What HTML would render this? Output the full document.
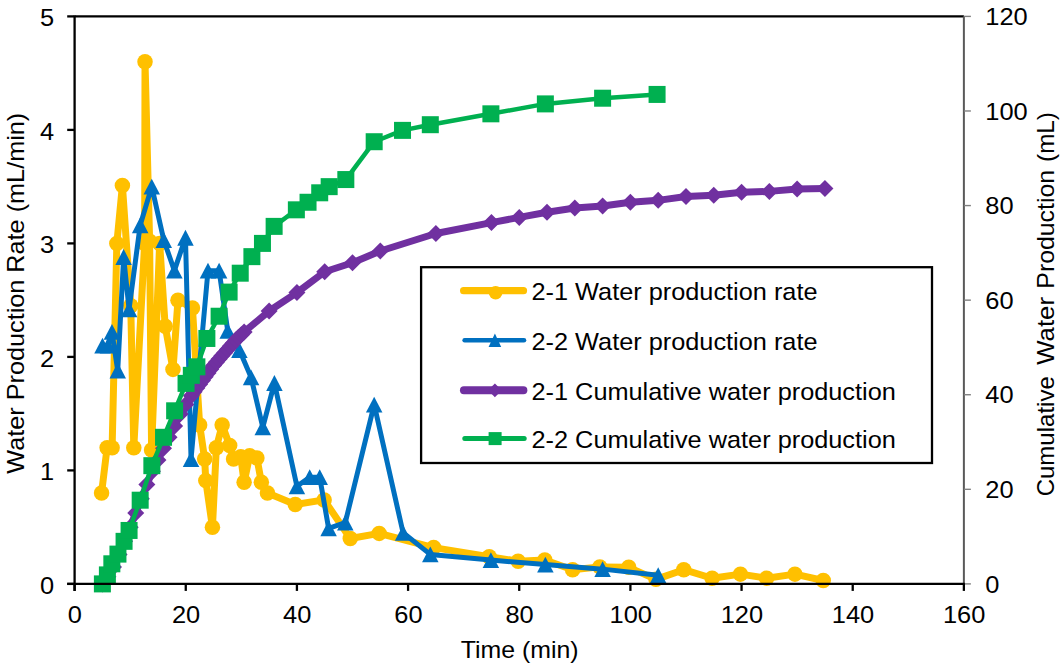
<!DOCTYPE html>
<html><head><meta charset="utf-8"><style>
html,body{margin:0;padding:0;background:#fff;overflow:hidden;}
svg{display:block;}
text{font-family:"Liberation Sans",sans-serif;font-size:24px;fill:#000;}
</style></head><body>
<svg width="1062" height="668" viewBox="0 0 1062 668">
<rect width="1062" height="668" fill="#fff"/>
<polyline points="101.56,493.10 107.11,447.70 112.12,447.70 116.84,243.40 122.40,185.51 130.74,305.82 133.79,447.70 144.63,243.40 145.02,61.80 149.63,241.13 151.58,449.97 159.64,243.40 165.20,326.25 172.98,369.38 177.98,300.15 192.43,308.09 199.65,425.00 204.66,459.05 205.77,480.62 212.44,527.15 216.33,447.70 222.16,425.00 229.67,445.43 233.56,459.05 240.78,456.78 244.12,482.32 249.68,455.64 256.90,457.91 261.35,482.32 267.46,493.10 295.25,504.45 324.15,499.91 350.28,538.50 379.18,533.39 433.65,547.58 489.23,556.66 518.13,561.20 544.81,560.06 572.60,569.71 599.83,566.88 628.73,567.33 655.97,579.36 683.76,569.71 712.10,578.23 740.45,574.14 766.57,578.23 794.92,574.14 823.26,580.50" fill="none" stroke="#FFC000" stroke-width="7" stroke-linejoin="round" stroke-linecap="round"/>
<circle cx="101.56" cy="493.10" r="7.75" fill="#FFC000"/>
<circle cx="107.11" cy="447.70" r="7.75" fill="#FFC000"/>
<circle cx="112.12" cy="447.70" r="7.75" fill="#FFC000"/>
<circle cx="116.84" cy="243.40" r="7.75" fill="#FFC000"/>
<circle cx="122.40" cy="185.51" r="7.75" fill="#FFC000"/>
<circle cx="130.74" cy="305.82" r="7.75" fill="#FFC000"/>
<circle cx="133.79" cy="447.70" r="7.75" fill="#FFC000"/>
<circle cx="144.63" cy="243.40" r="7.75" fill="#FFC000"/>
<circle cx="145.02" cy="61.80" r="7.75" fill="#FFC000"/>
<circle cx="149.63" cy="241.13" r="7.75" fill="#FFC000"/>
<circle cx="151.58" cy="449.97" r="7.75" fill="#FFC000"/>
<circle cx="159.64" cy="243.40" r="7.75" fill="#FFC000"/>
<circle cx="165.20" cy="326.25" r="7.75" fill="#FFC000"/>
<circle cx="172.98" cy="369.38" r="7.75" fill="#FFC000"/>
<circle cx="177.98" cy="300.15" r="7.75" fill="#FFC000"/>
<circle cx="192.43" cy="308.09" r="7.75" fill="#FFC000"/>
<circle cx="199.65" cy="425.00" r="7.75" fill="#FFC000"/>
<circle cx="204.66" cy="459.05" r="7.75" fill="#FFC000"/>
<circle cx="205.77" cy="480.62" r="7.75" fill="#FFC000"/>
<circle cx="212.44" cy="527.15" r="7.75" fill="#FFC000"/>
<circle cx="216.33" cy="447.70" r="7.75" fill="#FFC000"/>
<circle cx="222.16" cy="425.00" r="7.75" fill="#FFC000"/>
<circle cx="229.67" cy="445.43" r="7.75" fill="#FFC000"/>
<circle cx="233.56" cy="459.05" r="7.75" fill="#FFC000"/>
<circle cx="240.78" cy="456.78" r="7.75" fill="#FFC000"/>
<circle cx="244.12" cy="482.32" r="7.75" fill="#FFC000"/>
<circle cx="249.68" cy="455.64" r="7.75" fill="#FFC000"/>
<circle cx="256.90" cy="457.91" r="7.75" fill="#FFC000"/>
<circle cx="261.35" cy="482.32" r="7.75" fill="#FFC000"/>
<circle cx="267.46" cy="493.10" r="7.75" fill="#FFC000"/>
<circle cx="295.25" cy="504.45" r="7.75" fill="#FFC000"/>
<circle cx="324.15" cy="499.91" r="7.75" fill="#FFC000"/>
<circle cx="350.28" cy="538.50" r="7.75" fill="#FFC000"/>
<circle cx="379.18" cy="533.39" r="7.75" fill="#FFC000"/>
<circle cx="433.65" cy="547.58" r="7.75" fill="#FFC000"/>
<circle cx="489.23" cy="556.66" r="7.75" fill="#FFC000"/>
<circle cx="518.13" cy="561.20" r="7.75" fill="#FFC000"/>
<circle cx="544.81" cy="560.06" r="7.75" fill="#FFC000"/>
<circle cx="572.60" cy="569.71" r="7.75" fill="#FFC000"/>
<circle cx="599.83" cy="566.88" r="7.75" fill="#FFC000"/>
<circle cx="628.73" cy="567.33" r="7.75" fill="#FFC000"/>
<circle cx="655.97" cy="579.36" r="7.75" fill="#FFC000"/>
<circle cx="683.76" cy="569.71" r="7.75" fill="#FFC000"/>
<circle cx="712.10" cy="578.23" r="7.75" fill="#FFC000"/>
<circle cx="740.45" cy="574.14" r="7.75" fill="#FFC000"/>
<circle cx="766.57" cy="578.23" r="7.75" fill="#FFC000"/>
<circle cx="794.92" cy="574.14" r="7.75" fill="#FFC000"/>
<circle cx="823.26" cy="580.50" r="7.75" fill="#FFC000"/>
<polyline points="102.50,345.55 107.95,345.55 111.95,331.93 117.73,370.52 123.62,257.02 129.07,309.23 140.18,225.24 151.75,186.65 163.75,240.00 174.37,270.64 185.48,237.73 191.04,459.05 207.99,270.64 219.11,270.64 227.72,330.79 239.39,350.09 251.07,377.33 262.79,427.27 274.41,383.00 296.92,486.29 309.70,477.21 319.71,477.21 328.60,528.28 345.27,522.61 374.18,404.57 403.08,532.82 430.31,554.39 490.89,560.06 545.36,564.61 602.61,569.14 658.19,575.27" fill="none" stroke="#0070C0" stroke-width="5" stroke-linejoin="round" stroke-linecap="round"/>
<path d="M102.50,337.65L110.75,353.45L94.25,353.45Z" fill="#0070C0"/>
<path d="M107.95,337.65L116.20,353.45L99.70,353.45Z" fill="#0070C0"/>
<path d="M111.95,324.03L120.20,339.83L103.70,339.83Z" fill="#0070C0"/>
<path d="M117.73,362.62L125.98,378.42L109.48,378.42Z" fill="#0070C0"/>
<path d="M123.62,249.12L131.87,264.92L115.37,264.92Z" fill="#0070C0"/>
<path d="M129.07,301.33L137.32,317.13L120.82,317.13Z" fill="#0070C0"/>
<path d="M140.18,217.34L148.43,233.14L131.93,233.14Z" fill="#0070C0"/>
<path d="M151.75,178.75L160.00,194.55L143.50,194.55Z" fill="#0070C0"/>
<path d="M163.75,232.09L172.00,247.90L155.50,247.90Z" fill="#0070C0"/>
<path d="M174.37,262.74L182.62,278.54L166.12,278.54Z" fill="#0070C0"/>
<path d="M185.48,229.83L193.73,245.63L177.23,245.63Z" fill="#0070C0"/>
<path d="M191.04,451.15L199.29,466.95L182.79,466.95Z" fill="#0070C0"/>
<path d="M207.99,262.74L216.24,278.54L199.74,278.54Z" fill="#0070C0"/>
<path d="M219.11,262.74L227.36,278.54L210.86,278.54Z" fill="#0070C0"/>
<path d="M227.72,322.89L235.97,338.69L219.47,338.69Z" fill="#0070C0"/>
<path d="M239.39,342.19L247.64,357.99L231.14,357.99Z" fill="#0070C0"/>
<path d="M251.07,369.43L259.32,385.23L242.82,385.23Z" fill="#0070C0"/>
<path d="M262.79,419.37L271.04,435.17L254.54,435.17Z" fill="#0070C0"/>
<path d="M274.41,375.11L282.66,390.90L266.16,390.90Z" fill="#0070C0"/>
<path d="M296.92,478.39L305.17,494.19L288.67,494.19Z" fill="#0070C0"/>
<path d="M309.70,469.31L317.95,485.11L301.45,485.11Z" fill="#0070C0"/>
<path d="M319.71,469.31L327.96,485.11L311.46,485.11Z" fill="#0070C0"/>
<path d="M328.60,520.38L336.85,536.18L320.35,536.18Z" fill="#0070C0"/>
<path d="M345.27,514.71L353.52,530.51L337.02,530.51Z" fill="#0070C0"/>
<path d="M374.18,396.67L382.43,412.47L365.93,412.47Z" fill="#0070C0"/>
<path d="M403.08,524.92L411.33,540.72L394.83,540.72Z" fill="#0070C0"/>
<path d="M430.31,546.49L438.56,562.29L422.06,562.29Z" fill="#0070C0"/>
<path d="M490.89,552.16L499.14,567.96L482.64,567.96Z" fill="#0070C0"/>
<path d="M545.36,556.71L553.61,572.50L537.11,572.50Z" fill="#0070C0"/>
<path d="M602.61,561.25L610.86,577.04L594.36,577.04Z" fill="#0070C0"/>
<path d="M658.19,567.37L666.44,583.17L649.94,583.17Z" fill="#0070C0"/>
<polyline points="102.39,583.90 107.95,576.81 113.51,566.88 119.06,554.58 124.62,541.34 130.18,527.15 135.74,512.96 141.30,498.77 146.85,484.59 152.41,471.35 157.97,460.00 163.53,448.17 169.09,437.30 174.64,425.95 180.20,414.12 185.76,404.55 191.32,395.63 194.10,391.85 196.88,388.07 199.65,384.30 202.43,380.52 205.21,376.74 207.99,372.97 210.77,369.19 213.55,365.41 216.33,362.23 219.11,359.05 221.89,355.87 224.67,352.68 227.44,349.50 230.22,346.32 233.00,343.14 235.78,339.96 238.56,337.27 241.34,334.63 244.12,331.99 269.13,311.03 296.92,292.58 324.71,271.77 352.50,262.79 380.29,250.97 435.87,233.47 491.45,222.59 519.24,217.39 547.03,212.19 574.82,207.93 602.61,206.04 630.40,202.26 658.19,200.36 685.98,196.58 713.77,195.16 741.56,192.32 769.35,191.38 797.14,189.01 824.93,188.54" fill="none" stroke="#7030A0" stroke-width="7" stroke-linejoin="round" stroke-linecap="round"/>
<path d="M102.39,575.40L110.89,583.90L102.39,592.40L93.89,583.90Z" fill="#7030A0"/>
<path d="M107.95,568.31L116.45,576.81L107.95,585.31L99.45,576.81Z" fill="#7030A0"/>
<path d="M113.51,558.38L122.01,566.88L113.51,575.38L105.01,566.88Z" fill="#7030A0"/>
<path d="M119.06,546.08L127.56,554.58L119.06,563.08L110.56,554.58Z" fill="#7030A0"/>
<path d="M124.62,532.84L133.12,541.34L124.62,549.84L116.12,541.34Z" fill="#7030A0"/>
<path d="M130.18,518.65L138.68,527.15L130.18,535.65L121.68,527.15Z" fill="#7030A0"/>
<path d="M135.74,504.46L144.24,512.96L135.74,521.46L127.24,512.96Z" fill="#7030A0"/>
<path d="M141.30,490.27L149.80,498.77L141.30,507.27L132.80,498.77Z" fill="#7030A0"/>
<path d="M146.85,476.09L155.35,484.59L146.85,493.09L138.35,484.59Z" fill="#7030A0"/>
<path d="M152.41,462.85L160.91,471.35L152.41,479.85L143.91,471.35Z" fill="#7030A0"/>
<path d="M157.97,451.50L166.47,460.00L157.97,468.50L149.47,460.00Z" fill="#7030A0"/>
<path d="M163.53,439.67L172.03,448.17L163.53,456.67L155.03,448.17Z" fill="#7030A0"/>
<path d="M169.09,428.80L177.59,437.30L169.09,445.80L160.59,437.30Z" fill="#7030A0"/>
<path d="M174.64,417.45L183.14,425.95L174.64,434.45L166.14,425.95Z" fill="#7030A0"/>
<path d="M180.20,405.62L188.70,414.12L180.20,422.62L171.70,414.12Z" fill="#7030A0"/>
<path d="M185.76,396.05L194.26,404.55L185.76,413.05L177.26,404.55Z" fill="#7030A0"/>
<path d="M191.32,387.13L199.82,395.63L191.32,404.13L182.82,395.63Z" fill="#7030A0"/>
<path d="M194.10,383.35L202.60,391.85L194.10,400.35L185.60,391.85Z" fill="#7030A0"/>
<path d="M196.88,379.57L205.38,388.07L196.88,396.57L188.38,388.07Z" fill="#7030A0"/>
<path d="M199.65,375.80L208.15,384.30L199.65,392.80L191.15,384.30Z" fill="#7030A0"/>
<path d="M202.43,372.02L210.93,380.52L202.43,389.02L193.93,380.52Z" fill="#7030A0"/>
<path d="M205.21,368.24L213.71,376.74L205.21,385.24L196.71,376.74Z" fill="#7030A0"/>
<path d="M207.99,364.47L216.49,372.97L207.99,381.47L199.49,372.97Z" fill="#7030A0"/>
<path d="M210.77,360.69L219.27,369.19L210.77,377.69L202.27,369.19Z" fill="#7030A0"/>
<path d="M213.55,356.91L222.05,365.41L213.55,373.91L205.05,365.41Z" fill="#7030A0"/>
<path d="M216.33,353.73L224.83,362.23L216.33,370.73L207.83,362.23Z" fill="#7030A0"/>
<path d="M219.11,350.55L227.61,359.05L219.11,367.55L210.61,359.05Z" fill="#7030A0"/>
<path d="M221.89,347.37L230.39,355.87L221.89,364.37L213.39,355.87Z" fill="#7030A0"/>
<path d="M224.67,344.18L233.17,352.68L224.67,361.18L216.17,352.68Z" fill="#7030A0"/>
<path d="M227.44,341.00L235.94,349.50L227.44,358.00L218.94,349.50Z" fill="#7030A0"/>
<path d="M230.22,337.82L238.72,346.32L230.22,354.82L221.72,346.32Z" fill="#7030A0"/>
<path d="M233.00,334.64L241.50,343.14L233.00,351.64L224.50,343.14Z" fill="#7030A0"/>
<path d="M235.78,331.46L244.28,339.96L235.78,348.46L227.28,339.96Z" fill="#7030A0"/>
<path d="M238.56,328.77L247.06,337.27L238.56,345.77L230.06,337.27Z" fill="#7030A0"/>
<path d="M241.34,326.13L249.84,334.63L241.34,343.13L232.84,334.63Z" fill="#7030A0"/>
<path d="M244.12,323.49L252.62,331.99L244.12,340.49L235.62,331.99Z" fill="#7030A0"/>
<path d="M269.13,302.53L277.63,311.03L269.13,319.53L260.63,311.03Z" fill="#7030A0"/>
<path d="M296.92,284.08L305.42,292.58L296.92,301.08L288.42,292.58Z" fill="#7030A0"/>
<path d="M324.71,263.27L333.21,271.77L324.71,280.27L316.21,271.77Z" fill="#7030A0"/>
<path d="M352.50,254.29L361.00,262.79L352.50,271.29L344.00,262.79Z" fill="#7030A0"/>
<path d="M380.29,242.47L388.79,250.97L380.29,259.47L371.79,250.97Z" fill="#7030A0"/>
<path d="M435.87,224.97L444.37,233.47L435.87,241.97L427.37,233.47Z" fill="#7030A0"/>
<path d="M491.45,214.09L499.95,222.59L491.45,231.09L482.95,222.59Z" fill="#7030A0"/>
<path d="M519.24,208.89L527.74,217.39L519.24,225.89L510.74,217.39Z" fill="#7030A0"/>
<path d="M547.03,203.69L555.53,212.19L547.03,220.69L538.53,212.19Z" fill="#7030A0"/>
<path d="M574.82,199.43L583.32,207.93L574.82,216.43L566.32,207.93Z" fill="#7030A0"/>
<path d="M602.61,197.54L611.11,206.04L602.61,214.54L594.11,206.04Z" fill="#7030A0"/>
<path d="M630.40,193.76L638.90,202.26L630.40,210.76L621.90,202.26Z" fill="#7030A0"/>
<path d="M658.19,191.86L666.69,200.36L658.19,208.86L649.69,200.36Z" fill="#7030A0"/>
<path d="M685.98,188.08L694.48,196.58L685.98,205.08L677.48,196.58Z" fill="#7030A0"/>
<path d="M713.77,186.66L722.27,195.16L713.77,203.66L705.27,195.16Z" fill="#7030A0"/>
<path d="M741.56,183.82L750.06,192.32L741.56,200.82L733.06,192.32Z" fill="#7030A0"/>
<path d="M769.35,182.88L777.85,191.38L769.35,199.88L760.85,191.38Z" fill="#7030A0"/>
<path d="M797.14,180.51L805.64,189.01L797.14,197.51L788.64,189.01Z" fill="#7030A0"/>
<path d="M824.93,180.04L833.43,188.54L824.93,197.04L816.43,188.54Z" fill="#7030A0"/>
<polyline points="102.39,583.90 107.39,574.91 111.84,563.80 117.95,554.11 124.07,541.34 129.07,530.46 140.18,500.19 151.86,465.67 163.53,437.30 174.64,410.81 186.04,383.38 191.32,375.34 196.88,366.83 206.88,338.46 219.11,316.23 229.11,292.11 240.23,273.19 251.90,256.64 262.46,243.40 274.13,226.38 296.36,209.82 308.04,202.26 319.71,192.80 329.16,186.65 345.83,179.56 374.18,141.72 402.52,130.37 430.31,124.70 490.89,113.82 545.36,103.89 602.61,98.21 657.08,94.43" fill="none" stroke="#00B050" stroke-width="4.5" stroke-linejoin="round" stroke-linecap="round"/>
<rect x="93.89" y="575.40" width="17" height="17" fill="#00B050"/>
<rect x="98.89" y="566.41" width="17" height="17" fill="#00B050"/>
<rect x="103.34" y="555.30" width="17" height="17" fill="#00B050"/>
<rect x="109.45" y="545.61" width="17" height="17" fill="#00B050"/>
<rect x="115.57" y="532.84" width="17" height="17" fill="#00B050"/>
<rect x="120.57" y="521.96" width="17" height="17" fill="#00B050"/>
<rect x="131.68" y="491.69" width="17" height="17" fill="#00B050"/>
<rect x="143.36" y="457.17" width="17" height="17" fill="#00B050"/>
<rect x="155.03" y="428.80" width="17" height="17" fill="#00B050"/>
<rect x="166.14" y="402.31" width="17" height="17" fill="#00B050"/>
<rect x="177.54" y="374.88" width="17" height="17" fill="#00B050"/>
<rect x="182.82" y="366.84" width="17" height="17" fill="#00B050"/>
<rect x="188.38" y="358.33" width="17" height="17" fill="#00B050"/>
<rect x="198.38" y="329.96" width="17" height="17" fill="#00B050"/>
<rect x="210.61" y="307.73" width="17" height="17" fill="#00B050"/>
<rect x="220.61" y="283.61" width="17" height="17" fill="#00B050"/>
<rect x="231.73" y="264.69" width="17" height="17" fill="#00B050"/>
<rect x="243.40" y="248.14" width="17" height="17" fill="#00B050"/>
<rect x="253.96" y="234.90" width="17" height="17" fill="#00B050"/>
<rect x="265.63" y="217.88" width="17" height="17" fill="#00B050"/>
<rect x="287.86" y="201.32" width="17" height="17" fill="#00B050"/>
<rect x="299.54" y="193.76" width="17" height="17" fill="#00B050"/>
<rect x="311.21" y="184.30" width="17" height="17" fill="#00B050"/>
<rect x="320.66" y="178.15" width="17" height="17" fill="#00B050"/>
<rect x="337.33" y="171.06" width="17" height="17" fill="#00B050"/>
<rect x="365.68" y="133.22" width="17" height="17" fill="#00B050"/>
<rect x="394.02" y="121.87" width="17" height="17" fill="#00B050"/>
<rect x="421.81" y="116.20" width="17" height="17" fill="#00B050"/>
<rect x="482.39" y="105.32" width="17" height="17" fill="#00B050"/>
<rect x="536.86" y="95.39" width="17" height="17" fill="#00B050"/>
<rect x="594.11" y="89.71" width="17" height="17" fill="#00B050"/>
<rect x="648.58" y="85.93" width="17" height="17" fill="#00B050"/>
<line x1="74.6" y1="16.40" x2="963.88" y2="16.40" stroke="#000" stroke-width="2.3"/>
<line x1="963.88" y1="16.40" x2="963.88" y2="583.9" stroke="#595959" stroke-width="2"/>
<line x1="963.88" y1="583.90" x2="970.88" y2="583.90" stroke="#808080" stroke-width="1.4"/>
<line x1="963.88" y1="489.32" x2="970.88" y2="489.32" stroke="#808080" stroke-width="1.4"/>
<line x1="963.88" y1="394.73" x2="970.88" y2="394.73" stroke="#808080" stroke-width="1.4"/>
<line x1="963.88" y1="300.15" x2="970.88" y2="300.15" stroke="#808080" stroke-width="1.4"/>
<line x1="963.88" y1="205.57" x2="970.88" y2="205.57" stroke="#808080" stroke-width="1.4"/>
<line x1="963.88" y1="110.98" x2="970.88" y2="110.98" stroke="#808080" stroke-width="1.4"/>
<line x1="963.88" y1="16.40" x2="970.88" y2="16.40" stroke="#808080" stroke-width="1.4"/>
<line x1="74.6" y1="15.40" x2="74.6" y2="590.90" stroke="#000" stroke-width="2.3"/>
<line x1="67.20" y1="583.90" x2="74.6" y2="583.90" stroke="#000" stroke-width="2.3"/>
<line x1="67.20" y1="470.40" x2="74.6" y2="470.40" stroke="#000" stroke-width="2.3"/>
<line x1="67.20" y1="356.90" x2="74.6" y2="356.90" stroke="#000" stroke-width="2.3"/>
<line x1="67.20" y1="243.40" x2="74.6" y2="243.40" stroke="#000" stroke-width="2.3"/>
<line x1="67.20" y1="129.90" x2="74.6" y2="129.90" stroke="#000" stroke-width="2.3"/>
<line x1="67.20" y1="16.40" x2="74.6" y2="16.40" stroke="#000" stroke-width="2.3"/>
<line x1="67.20" y1="583.9" x2="964.88" y2="583.9" stroke="#000" stroke-width="2.3"/>
<line x1="74.60" y1="583.9" x2="74.60" y2="590.90" stroke="#000" stroke-width="2.3"/>
<line x1="185.76" y1="583.9" x2="185.76" y2="590.90" stroke="#000" stroke-width="2.3"/>
<line x1="296.92" y1="583.9" x2="296.92" y2="590.90" stroke="#000" stroke-width="2.3"/>
<line x1="408.08" y1="583.9" x2="408.08" y2="590.90" stroke="#000" stroke-width="2.3"/>
<line x1="519.24" y1="583.9" x2="519.24" y2="590.90" stroke="#000" stroke-width="2.3"/>
<line x1="630.40" y1="583.9" x2="630.40" y2="590.90" stroke="#000" stroke-width="2.3"/>
<line x1="741.56" y1="583.9" x2="741.56" y2="590.90" stroke="#000" stroke-width="2.3"/>
<line x1="852.72" y1="583.9" x2="852.72" y2="590.90" stroke="#000" stroke-width="2.3"/>
<line x1="963.88" y1="583.9" x2="963.88" y2="590.90" stroke="#000" stroke-width="2.3"/>
<text transform="translate(54.2,593.70) scale(1.06,1)" text-anchor="end">0</text>
<text transform="translate(54.2,480.20) scale(1.06,1)" text-anchor="end">1</text>
<text transform="translate(54.2,366.70) scale(1.06,1)" text-anchor="end">2</text>
<text transform="translate(54.2,253.20) scale(1.06,1)" text-anchor="end">3</text>
<text transform="translate(54.2,139.70) scale(1.06,1)" text-anchor="end">4</text>
<text transform="translate(54.2,26.20) scale(1.06,1)" text-anchor="end">5</text>
<text transform="translate(985.3,592.50) scale(1.06,1)" text-anchor="start">0</text>
<text transform="translate(985.3,497.92) scale(1.06,1)" text-anchor="start">20</text>
<text transform="translate(985.3,403.33) scale(1.06,1)" text-anchor="start">40</text>
<text transform="translate(985.3,308.75) scale(1.06,1)" text-anchor="start">60</text>
<text transform="translate(985.3,214.17) scale(1.06,1)" text-anchor="start">80</text>
<text transform="translate(985.3,119.58) scale(1.06,1)" text-anchor="start">100</text>
<text transform="translate(985.3,25.00) scale(1.06,1)" text-anchor="start">120</text>
<text transform="translate(74.90,623.2) scale(1.06,1)" text-anchor="middle">0</text>
<text transform="translate(186.06,623.2) scale(1.06,1)" text-anchor="middle">20</text>
<text transform="translate(297.22,623.2) scale(1.06,1)" text-anchor="middle">40</text>
<text transform="translate(408.38,623.2) scale(1.06,1)" text-anchor="middle">60</text>
<text transform="translate(519.54,623.2) scale(1.06,1)" text-anchor="middle">80</text>
<text transform="translate(630.70,623.2) scale(1.06,1)" text-anchor="middle">100</text>
<text transform="translate(741.86,623.2) scale(1.06,1)" text-anchor="middle">120</text>
<text transform="translate(853.02,623.2) scale(1.06,1)" text-anchor="middle">140</text>
<text transform="translate(964.18,623.2) scale(1.06,1)" text-anchor="middle">160</text>
<text transform="translate(519.6,658.0) scale(1.036,1)" text-anchor="middle">Time (min)</text>
<text transform="translate(24.3,293.25) rotate(-90) scale(1.052,1)" text-anchor="middle">Water Production Rate (mL/min)</text>
<text transform="translate(1053.5,436.3) rotate(-90) scale(1.0,1)" text-anchor="middle">Cumulative</text>
<text transform="translate(1053.5,330.9) rotate(-90) scale(1.075,1)" text-anchor="middle">Water</text>
<text transform="translate(1053.5,229.3) rotate(-90) scale(1.036,1)" text-anchor="middle">Production</text>
<text transform="translate(1053.5,137.0) rotate(-90) scale(1.01,1)" text-anchor="middle">(mL)</text>
<rect x="421.1" y="267.2" width="510.9" height="195.8" fill="#fff" stroke="#000" stroke-width="2.3"/>
<line x1="463.6" y1="290.7" x2="523.5" y2="290.7" stroke="#FFC000" stroke-width="7.2" stroke-linecap="round"/>
<circle cx="495.60" cy="292.70" r="6.8" fill="#FFC000"/>
<text transform="translate(531.5,299.9) scale(1.055,1)">2-1 Water production rate</text>
<line x1="464.6" y1="340.3" x2="524.0" y2="340.3" stroke="#0070C0" stroke-width="4.5" stroke-linecap="round"/>
<path d="M494.90,333.60L501.20,347.00L488.60,347.00Z" fill="#0070C0"/>
<text transform="translate(531.5,349.5) scale(1.055,1)">2-2 Water production rate</text>
<line x1="463.9" y1="390.3" x2="523.4" y2="390.3" stroke="#7030A0" stroke-width="7.9" stroke-linecap="round"/>
<path d="M494.90,383.40L501.80,390.30L494.90,397.20L488.00,390.30Z" fill="#7030A0"/>
<text transform="translate(531.5,399.5) scale(1.055,1)">2-1 Cumulative water production</text>
<line x1="464.8" y1="438.6" x2="524.2" y2="438.6" stroke="#00B050" stroke-width="5" stroke-linecap="round"/>
<rect x="488.60" y="432.10" width="13" height="13" fill="#00B050"/>
<text transform="translate(531.5,447.8) scale(1.055,1)">2-2 Cumulative water production</text>
</svg>
</body></html>
